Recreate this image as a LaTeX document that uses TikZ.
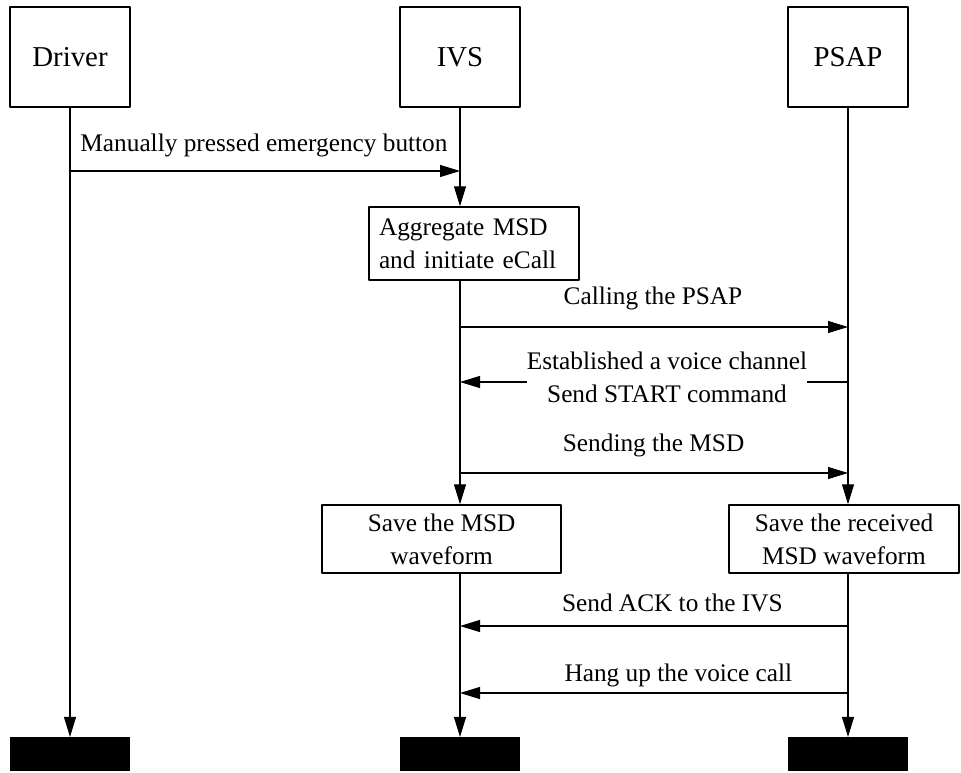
\documentclass[tikz,border=0pt]{standalone}
\usepackage{fontspec}
\setmainfont{Liberation Serif}
\usetikzlibrary{arrows.meta}
\begin{document}
\begin{tikzpicture}[>={Triangle[length=5mm,width=3mm]}, line width=0.75pt, font=\fontsize{18}{23.5}\selectfont, line join=round,
actor/.style={draw,line width=1pt,minimum width=3cm,minimum height=2.5cm,font=\fontsize{20.5}{24}\selectfont},
task/.style={draw,line width=1pt,minimum height=1.7cm,align=center,inner sep=0pt},
msg/.style={inner sep=0pt},
stopbar/.style={fill=black,minimum width=3cm,minimum height=0.85cm,inner sep=0pt,anchor=south}]
\useasboundingbox (0,0) rectangle (24.025,19.3);
\node[actor] (driver) at (1.75,17.875) {Driver};
\node[actor] (ivs) at (11.5,17.875) {IVS};
\node[actor] (psap) at (21.2,17.875) {PSAP};
\node[task,align=left,text width=4.75cm,inner xsep=0.25cm,minimum height=1.825cm] (aggr) at (11.85,13.2125) {Aggregate MSD\\and initiate eCall};
\node[task,minimum width=5.975cm] (savemsd) at (11.04,5.825) {Save the MSD\\waveform};
\node[task,minimum width=5.75cm] (saverecv) at (21.1,5.825) {Save the received\\MSD waveform};
\node[stopbar] (endD) at (1.75,0) {};
\node[stopbar] (endI) at (11.5,0) {};
\node[stopbar] (endP) at (21.2,0) {};
% rows of the messages
\coordinate (t1) at (0,15.025); \coordinate (t2) at (0,11.125); \coordinate (t3) at (0,9.75);
\coordinate (t4) at (0,7.475); \coordinate (t5) at (0,3.65); \coordinate (t6) at (0,1.975);
% life lines
\draw[->] (driver) -- (endD);
\draw[->] (ivs) -- (ivs.south |- aggr.north);
\draw[->] (ivs.south |- aggr.south) -- (ivs.south |- savemsd.north);
\draw[->] (ivs.south |- savemsd.south) -- (endI);
\draw[->] (psap) -- (psap.south |- saverecv.north);
\draw[->] (psap.south |- saverecv.south) -- (endP);
% messages
\draw[->] (driver |- t1) -- (ivs |- t1);
\draw[->] (ivs |- t2) -- (psap |- t2);
\draw[->] (psap |- t3) -- (ivs |- t3);
\draw[->] (ivs |- t4) -- (psap |- t4);
\draw[->] (psap |- t5) -- (ivs |- t5);
\draw[->] (psap |- t6) -- (ivs |- t6);
\node[msg] (l1) at (6.6,15.675) {Manually pressed emergency button};
\node[msg] (l2) at (16.325,11.85) {Calling the PSAP};
\node[msg,fill=white,align=center] (l3) at (16.675,9.875) {Established a voice channel\\Send START command};
\node[msg] (l4) at (16.34,8.175) {Sending the MSD};
\node[msg] (l5) at (16.81,4.2375) {Send ACK to the IVS};
\node[msg] (l6) at (16.96,2.425) {Hang up the voice call};
\end{tikzpicture}
\end{document}
